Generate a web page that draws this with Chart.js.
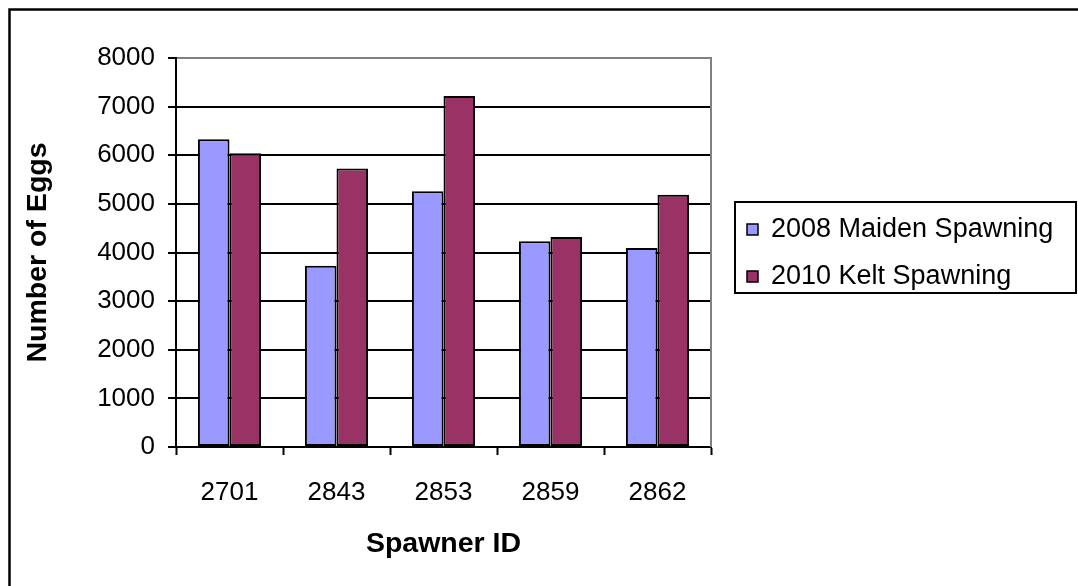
<!DOCTYPE html>
<html>
<head>
<meta charset="utf-8">
<script src="https://cdn.jsdelivr.net/npm/chart.js@4/dist/chart.umd.min.js"></script>
<style>
  html, body { margin: 0; padding: 0; background: #ffffff; }
  #wrap { width: 1078px; height: 586px; position: relative; }
</style>
</head>
<body>
<div id="wrap"><canvas id="c" width="1078" height="586"></canvas></div>
<script>
// Egg counts per spawner, two spawning years
const spawnerIds = ['2701', '2843', '2853', '2859', '2862'];
const maidenEggs2008 = [6330, 3730, 5260, 4230, 4090];
const keltEggs2010 = [6040, 5725, 7220, 4320, 5190];
const seriesNames = ['2008 Maiden Spawning', '2010 Kelt Spawning'];
const seriesColors = ['#9999FF', '#993366'];

const FONT = "'Liberation Sans', Arial, sans-serif";

// Outer frame, right edge of the plot area and the boxed legend
const decorations = {
  id: 'decorations',
  afterDraw(chart) {
    const ctx = chart.ctx;
    const area = chart.chartArea;
    ctx.save();
    // plot area right border
    ctx.strokeStyle = '#808080';
    ctx.lineWidth = 2;
    ctx.beginPath();
    ctx.moveTo(area.right, area.top - 1);
    ctx.lineTo(area.right, area.bottom);
    ctx.stroke();

    // chart frame
    ctx.strokeStyle = '#000000';
    ctx.lineWidth = 2.5;
    ctx.beginPath();
    ctx.moveTo(9.5, 600);
    ctx.lineTo(9.5, 9.5);
    ctx.lineTo(1090, 9.5);
    ctx.stroke();

    // legend
    const lx = 735, ly = 202, lw = 341, lh = 91;
    ctx.lineWidth = 2;
    ctx.strokeRect(lx, ly, lw, lh);
    ctx.font = '27px ' + FONT;
    ctx.textBaseline = 'middle';
    ctx.textAlign = 'left';
    chart.data.datasets.forEach((ds, i) => {
      const cy = 229 + i * 47;
      ctx.fillStyle = ds.backgroundColor;
      ctx.fillRect(747, cy - 5, 11, 11);
      ctx.lineWidth = 1.5;
      ctx.strokeStyle = '#000000';
      ctx.strokeRect(747, cy - 5, 11, 11);
      ctx.fillStyle = '#000000';
      ctx.fillText(ds.label, 771, cy + 1);
    });
    ctx.restore();
  }
};

new Chart(document.getElementById('c'), {
  type: 'bar',
  data: {
    labels: spawnerIds,
    datasets: [
      { label: seriesNames[0], data: maidenEggs2008, backgroundColor: seriesColors[0] },
      { label: seriesNames[1], data: keltEggs2010, backgroundColor: seriesColors[1] }
    ]
  },
  options: {
    responsive: false,
    animation: false,
    devicePixelRatio: 1,
    layout: { padding: { left: 0, top: 58, right: 367, bottom: 0 } },
    datasets: {
      bar: {
        categoryPercentage: 0.59,
        barPercentage: 1.0,
        borderColor: '#000000',
        borderWidth: 2,
        borderSkipped: false
      }
    },
    plugins: {
      legend: { display: false },
      tooltip: { enabled: false }
    },
    scales: {
      x: {
        offset: true,
        afterFit(scale) { scale.height = 139; },
        grid: {
          offset: true,
          drawOnChartArea: false,
          drawTicks: true,
          tickLength: 8,
          tickColor: '#000000',
          tickWidth: 2
        },
        border: { display: true, color: '#000000', width: 2 },
        ticks: {
          color: '#000000',
          padding: 22,
          maxRotation: 0,
          font: { family: FONT, size: 26 }
        },
        title: {
          display: true,
          text: 'Spawner ID',
          color: '#000000',
          padding: { top: 0, bottom: 25 },
          font: { family: FONT, size: 28.5, weight: 'bold' }
        }
      },
      y: {
        min: 0,
        max: 8000,
        afterFit(scale) { scale.width = 176; },
        ticks: {
          stepSize: 1000,
          color: '#000000',
          padding: 13,
          font: { family: FONT, size: 26 },
          callback: (v) => String(v)
        },
        grid: {
          color(ctx) { return ctx.tick && ctx.tick.value === 8000 ? '#808080' : '#000000'; },
          lineWidth: 2,
          drawTicks: true,
          tickLength: 8,
          tickColor: '#000000',
          tickWidth: 2
        },
        border: { display: true, color: '#000000', width: 2 },
        title: {
          display: true,
          text: 'Number of Eggs',
          color: '#000000',
          padding: { top: 21, bottom: 0 },
          font: { family: FONT, size: 28.5, weight: 'bold' }
        }
      }
    }
  },
  plugins: [decorations]
});
</script>
</body>
</html>
